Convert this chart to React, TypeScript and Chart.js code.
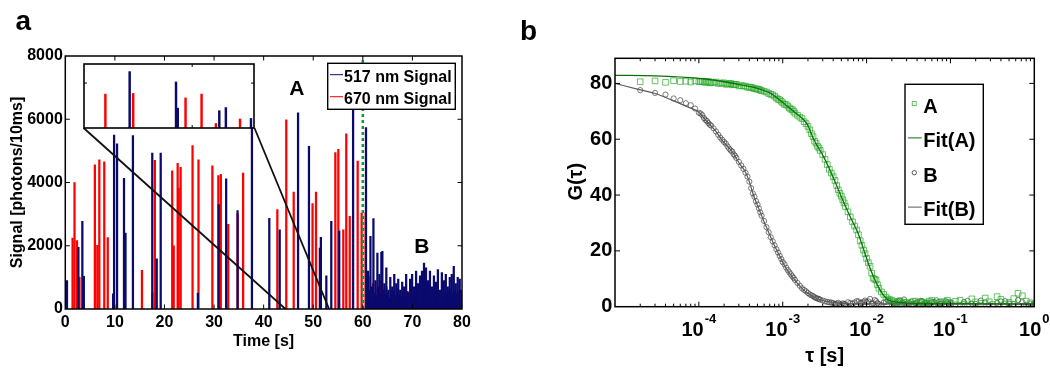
import React, { useEffect, useRef } from "react";
import { Chart, registerables } from "chart.js";
Chart.register(...registerables);

const FAM = "'Liberation Sans', Arial, Helvetica, sans-serif";
const bold = (size: number) => `bold ${size}px ${FAM}`;

// ---------------- Panel a: photon traces ----------------
const timeTicks = [0, 10, 20, 30, 40, 50, 60, 70, 80];
const signalTicks = [0, 2000, 4000, 6000, 8000];
const seriesLabels = ["517 nm Signal", "670 nm Signal"];

const blueTimes = [
  0.5, 2.8, 3.6, 3.9, 9.8, 10.0, 10.6, 12.0, 12.3, 13.8, 17.7, 18.6, 19.4, 26.9, 31.1, 32.6, 34.9, 37.8,
  41.3, 43.4, 47.1, 49.3, 51.5, 51.7, 52.8, 53.8, 55.4, 58.2, 60.8,
  61.2, 61.5, 61.7, 62.0, 62.3, 62.5, 62.7, 62.9, 63.1, 63.3, 63.5, 63.7, 63.9, 64.1, 64.3, 64.5, 64.7, 64.9,
  65.1, 65.3, 65.5, 65.7, 65.9, 66.1, 66.3, 66.5, 66.7, 66.9, 67.1, 67.3, 67.5, 67.7, 67.9, 68.1, 68.3, 68.5,
  68.7, 68.9, 69.1, 69.3, 69.5, 69.7, 69.9, 70.1, 70.3, 70.5, 70.7, 70.9, 71.1, 71.3, 71.5, 71.7, 71.9, 72.1,
  72.3, 72.5, 72.7, 72.9, 73.1, 73.3, 73.5, 73.7, 73.9, 74.1, 74.3, 74.5, 74.7, 74.9, 75.1, 75.3, 75.5, 75.7,
  75.9, 76.1, 76.3, 76.5, 76.7, 76.9, 77.1, 77.3, 77.5, 77.7, 77.9, 78.1, 78.3, 78.5, 78.7, 78.9, 79.1, 79.3,
  79.5, 79.7, 79.9,
];
const blueSignal = [
  900, 1950, 2770, 1030, 480, 5500, 5220, 4130, 2400, 5480, 4930, 1590, 4930, 500, 3300, 4120, 3110, 6100,
  2870, 2500, 6200, 5140, 1930, 2270, 1050, 2770, 2470, 6400, 5740,
  1200, 600, 2300, 700, 2860, 500, 900, 400, 1770, 700, 1100, 500, 1790, 1820, 600, 800, 450, 1300,
  500, 600, 350, 1000, 450, 700, 550, 1100, 400, 800, 500, 950, 450, 600, 350, 850, 500, 700,
  400, 1100, 550, 500, 400, 950, 500, 1100, 600, 700, 450, 1200, 500, 800, 550, 1050, 600, 1200,
  700, 1450, 600, 1300, 500, 900, 650, 1200, 500, 700, 450, 1050, 550, 850, 500, 1250, 450, 600,
  500, 1150, 600, 900, 450, 1100, 500, 700, 550, 1000, 600, 1100, 500, 1350, 600, 800, 450, 1000,
  550, 950, 600,
];
const redTimes = [
  1.3, 1.7, 2.2, 2.7, 5.8, 6.3, 6.7, 7.7, 8.4, 15.3, 17.4, 17.9, 21.4, 21.7, 22.5, 22.7, 23.1, 25.5, 26.7,
  29.5, 30.7, 31.2, 32.7, 34.6, 35.7, 42.6, 44.4, 45.9, 49.7, 50.4, 54.3, 54.9, 55.9, 56.5, 57.2, 58.8,
  59.6, 60.4,
  61.0, 61.4, 61.9, 62.4, 62.8, 63.4, 64.0, 64.6, 65.0, 65.6, 66.2, 66.8, 67.4, 68.0, 68.4, 69.0, 69.6,
  70.2, 70.8, 71.4, 72.0, 72.6, 73.2, 73.8, 74.4, 75.0, 75.6, 76.2, 76.8, 77.4, 78.0, 78.6, 79.2, 79.8,
];
const redSignal = [
  2240, 4000, 2160, 1000, 4560, 2010, 4720, 4650, 2260, 1220, 500, 4700, 4370, 2000, 4610, 3820, 4480, 5170, 4720,
  4530, 4220, 4260, 2680, 3010, 4300, 3140, 5980, 3700, 3330, 3700, 4950, 5050, 2500, 5540, 2930, 4680,
  3030, 3050,
  1030, 500, 800, 450, 650, 900, 450, 700, 350, 600, 450, 700, 400, 600, 300, 550, 350,
  600, 400, 700, 450, 500, 350, 600, 400, 500, 300, 550, 400, 600, 350, 500, 400, 450,
];
const switchTime = 60;
const regionLabels = ["A", "B"];
const regionLabelTime = [46.7, 71.9];
const regionLabelSignal = [6956, 1960];

// zoomed window shown in the inset
const zoomWindow = [44.4, 53.2];
const insetBoxTime = [3.7, 38.15];
const insetBoxSignal = [5723, 7760];
const insetSignalMax = 5700;
const insetTickTime = [50];
const insetTickSignal = [4000];
const insetBlueTimes = [46.81, 49.21, 49.3, 51.45, 51.79, 53.09];
const insetBlueSignal = [5020, 4100, 1770, 1540, 1820, 850];
const insetRedTimes = [45.46, 46.9, 49.61, 50.44, 51.18, 52.43];
const insetRedSignal = [3020, 3080, 2680, 3020, 400, 800];

// ---------------- Panel b: correlation curves ----------------
const corrLabels = ["A", "Fit(A)", "B", "Fit(B)"];
const decadeExps = [-4, -3, -2, -1, 0];
const gTicks = [0, 20, 40, 60, 80];

// correlator lag times, first set
const tau = [
  2e-5, 3e-5, 4e-5, 5e-5, 6e-5, 7e-5, 8e-5, 9e-5,
  1.0e-4, 1.1e-4, 1.2e-4, 1.3e-4, 1.4e-4, 1.6e-4, 1.8e-4, 2.0e-4, 2.2e-4, 2.4e-4, 2.6e-4, 2.8e-4,
  3.2e-4, 3.6e-4, 4.0e-4, 4.4e-4, 4.8e-4, 5.2e-4, 5.6e-4, 6.4e-4, 7.2e-4, 8.0e-4, 8.8e-4, 9.6e-4,
  1.0e-3, 1.1e-3, 1.2e-3, 1.3e-3, 1.4e-3, 1.6e-3, 1.8e-3, 2.0e-3, 2.2e-3, 2.4e-3, 2.6e-3, 2.8e-3,
  3.2e-3, 3.6e-3, 4.0e-3, 4.4e-3, 4.8e-3, 5.2e-3, 5.6e-3, 6.4e-3, 7.2e-3, 8.0e-3, 8.8e-3, 9.6e-3,
  1.0e-2, 1.1e-2, 1.2e-2, 1.3e-2, 1.4e-2, 1.6e-2, 1.8e-2, 2.0e-2, 2.2e-2, 2.4e-2, 2.6e-2, 2.8e-2,
  3.2e-2, 3.6e-2, 4.0e-2, 4.4e-2, 4.8e-2, 5.2e-2, 5.6e-2, 6.4e-2, 7.2e-2, 8.0e-2, 8.8e-2, 9.6e-2,
  0.10, 0.13, 0.16, 0.20, 0.26, 0.32, 0.40, 0.50, 0.64, 0.80, 1.00,
];
const gA = [
  80.6, 80.9, 80.4, 81.0, 80.7, 80.8, 80.5, 80.9,
  80.6, 80.8, 80.4, 80.7, 80.3, 80.5, 80.1, 80.2, 79.8, 80.0, 79.6, 79.7,
  79.2, 79.0, 78.7, 78.4, 78.0, 77.9, 77.4, 76.9, 76.1, 75.4, 74.3, 73.6,
  73.0, 72.4, 71.2, 70.6, 69.3, 67.9, 66.3, 64.6, 62.0, 59.3, 57.5, 56.0,
  52.8, 49.2, 46.6, 43.4, 40.6, 38.3, 35.9, 32.2, 28.9, 25.8, 22.0, 19.0,
  17.3, 14.5, 10.2, 9.5, 6.6, 4.4, 2.8, 2.2, 1.4, 1.9, 0.8, 1.6,
  1.0, 1.8, 0.9, 1.5, 0.6, 1.3, 2.0, 0.7, 1.4, 1.8, 0.5, 1.6,
  1.2, 2.3, 0.4, 1.7, 3.1, 0.8, 2.6, 1.5, 4.8, 2.0, 0.6,
];
const gB = [
  77.6, 76.6, 76.0, 74.6, 74.0, 72.9, 72.2, 71.0,
  69.5, 68.6, 66.9, 65.8, 64.9, 62.8, 60.6, 59.0, 57.4, 56.0, 54.6, 53.3,
  50.6, 48.0, 44.8, 40.6, 37.8, 35.2, 32.6, 28.5, 24.9, 22.0, 19.4, 17.1,
  16.0, 14.0, 12.3, 10.9, 9.6, 7.5, 6.0, 4.9, 4.1, 3.4, 2.9, 2.5,
  1.9, 1.6, 1.3, 1.1, 0.9, 1.2, 0.8, 1.3, 1.5, 1.9, 1.4, 2.2,
  1.6, 2.8, 1.2, 2.0, 0.9, 1.5, 2.3, 0.7, 1.1, 1.8, 0.5, 2.6,
  1.3, 0.8, 1.6, 2.1, 0.6, 1.4, 0.9, 1.7, 0.4, 1.2, 2.0, 0.8,
  1.3, 0.5, 2.1, 1.0, 1.6, 0.3, 1.9, 1.1, 2.4, 0.7, 1.2,
];
// correlator lag times, second (interleaved) set
const tau2 = [
  1.05e-4, 1.15e-4, 1.25e-4, 1.35e-4, 1.5e-4, 1.7e-4, 1.9e-4, 2.1e-4, 2.3e-4, 2.5e-4, 2.7e-4, 3.0e-4,
  3.4e-4, 3.8e-4, 4.2e-4, 4.6e-4, 5.0e-4, 5.4e-4, 6.0e-4, 6.8e-4, 7.6e-4, 8.4e-4, 9.2e-4,
  1.05e-3, 1.15e-3, 1.25e-3, 1.35e-3, 1.5e-3, 1.7e-3, 1.9e-3, 2.1e-3, 2.3e-3, 2.5e-3, 2.7e-3, 3.0e-3,
  3.4e-3, 3.8e-3, 4.2e-3, 4.6e-3, 5.0e-3, 5.4e-3, 6.0e-3, 6.8e-3, 7.6e-3, 8.4e-3, 9.2e-3,
  1.05e-2, 1.15e-2, 1.25e-2, 1.35e-2, 1.5e-2, 1.7e-2, 1.9e-2, 2.1e-2, 2.3e-2, 2.5e-2, 2.7e-2, 3.0e-2,
  3.4e-2, 3.8e-2, 4.2e-2, 4.6e-2, 5.0e-2, 5.4e-2, 6.0e-2, 6.8e-2, 7.6e-2, 8.4e-2, 9.2e-2,
  0.115, 0.145, 0.18, 0.23, 0.29, 0.36, 0.45, 0.57, 0.72, 0.9,
];
const gA2 = [
  80.7, 80.5, 80.6, 80.2, 80.4, 80.0, 80.1, 79.7, 79.9, 79.5, 79.6, 79.1,
  79.1, 78.6, 78.6, 78.1, 78.0, 77.6, 77.2, 76.4, 75.9, 74.8, 74.1,
  72.5, 71.9, 70.8, 70.0, 68.6, 67.4, 65.6, 63.4, 60.9, 58.6, 56.9, 54.5,
  50.9, 47.9, 45.2, 41.9, 39.6, 37.2, 34.0, 30.4, 27.5, 23.6, 20.3,
  15.8, 12.0, 9.8, 7.9, 5.3, 3.4, 2.5, 1.8, 1.2, 2.1, 1.0, 1.5,
  0.7, 2.0, 1.1, 1.7, 0.9, 1.4, 2.2, 1.0, 1.6, 0.8, 2.3,
  1.9, 0.9, 2.8, 1.2, 1.8, 3.6, 1.0, 2.9, 3.9, 1.4,
];
const gB2 = [
  69.2, 67.6, 66.5, 65.2, 63.9, 61.6, 59.8, 58.4, 56.6, 55.6, 54.1, 51.9,
  49.4, 46.6, 42.5, 39.4, 36.6, 33.8, 30.7, 26.7, 23.4, 20.6, 18.2,
  15.2, 13.1, 11.6, 10.3, 8.5, 6.6, 5.5, 4.4, 3.8, 3.1, 2.8, 2.2,
  1.7, 1.5, 1.0, 1.4, 0.7, 1.0, 1.6, 1.1, 2.0, 1.3, 1.8,
  1.9, 1.0, 2.4, 1.3, 0.6, 1.7, 2.0, 1.1, 0.8, 2.2, 1.4, 0.9,
  1.8, 1.2, 0.5, 2.0, 1.3, 0.8, 1.6, 2.3, 1.0, 0.6, 1.5,
  0.8, 1.7, 1.1, 2.2, 0.6, 1.4, 2.0, 0.9, 1.6, 1.1,
];
const fitATau = [
  1e-5, 3e-5, 1e-4, 2e-4, 3.16e-4, 4.9e-4, 7.08e-4, 1e-3, 1.41e-3, 1.95e-3, 2.34e-3, 3.09e-3, 3.98e-3,
  5.01e-3, 6.31e-3, 7.94e-3, 9.12e-3, 1.05e-2, 1.2e-2, 1.38e-2, 1.58e-2, 1.82e-2, 2.51e-2, 3.16e-2, 1e-1, 1,
];
const fitAValues = [
  82.9, 82.7, 81.8, 80.6, 79.5, 78.3, 76.5, 73.2, 69.5, 65.5, 60.0, 53.6, 46.5,
  39.3, 32.5, 26.2, 20.9, 15.5, 11.0, 7.1, 4.2, 2.4, 1.5, 1.3, 1.1, 1.0,
];
const fitBTau = [
  1e-5, 1.95e-5, 3.02e-5, 4.79e-5, 7.59e-5, 1e-4, 1.2e-4, 1.58e-4, 1.91e-4, 2.51e-4, 3.02e-4, 3.55e-4,
  3.98e-4, 4.47e-4, 5.13e-4, 5.89e-4, 6.76e-4, 7.76e-4, 9.33e-4, 1.07e-3, 1.35e-3, 1.62e-3, 1.95e-3,
  2.51e-3, 3.16e-3, 5.01e-3, 1e-2, 1,
];
const fitBValues = [
  80.0, 77.8, 76.4, 74.0, 71.4, 69.7, 66.9, 63.0, 59.5, 55.5, 51.5, 48.5,
  45.0, 40.0, 35.5, 31.0, 26.8, 22.6, 17.8, 14.3, 10.1, 7.2, 5.0,
  3.0, 2.0, 1.2, 1.0, 0.9,
];

const BLUE = "#0a0a6e";
const RED = "#ff0000";

// ---------------- plugins ----------------
function framePlugin(cfg: any) {
  return {
    id: "frame",
    afterDatasetsDraw(chart: any) {
      const { ctx, chartArea: a, scales } = chart;
      const xs = scales.x;
      const ys = scales.y;
      ctx.save();
      ctx.strokeStyle = "#000";
      ctx.lineWidth = cfg.tickWidth || 1;
      ctx.beginPath();
      const xt = (vals: number[], len: number) =>
        vals.forEach((v) => {
          const p = xs.getPixelForValue(v);
          if (p < a.left + 1 || p > a.right - 1) return;
          ctx.moveTo(p, a.bottom);
          ctx.lineTo(p, a.bottom - len);
          ctx.moveTo(p, a.top);
          ctx.lineTo(p, a.top + len);
        });
      const yt = (vals: number[], len: number) =>
        vals.forEach((v) => {
          const p = ys.getPixelForValue(v);
          if (p < a.top + 1 || p > a.bottom - 1) return;
          ctx.moveTo(a.left, p);
          ctx.lineTo(a.left + len, p);
          ctx.moveTo(a.right, p);
          ctx.lineTo(a.right - len, p);
        });
      xt(cfg.xMajor || [], cfg.major);
      xt(cfg.xMinor || [], cfg.minor || 0);
      yt(cfg.yMajor || [], cfg.major);
      ctx.stroke();
      ctx.lineWidth = cfg.borderWidth || 1.5;
      ctx.strokeRect(a.left, a.top, a.right - a.left, a.bottom - a.top);
      ctx.restore();
    },
  };
}

function boxLegendPlugin(cfg: any) {
  return {
    id: "boxLegend",
    afterDraw(chart: any) {
      const { ctx, chartArea: a } = chart;
      const x0 = a.right - cfg.right - cfg.width;
      const y0 = a.top + cfg.top;
      ctx.save();
      ctx.fillStyle = "#fff";
      ctx.fillRect(x0, y0, cfg.width, cfg.height);
      ctx.strokeStyle = "#000";
      ctx.lineWidth = 1.4;
      ctx.strokeRect(x0, y0, cfg.width, cfg.height);
      ctx.font = cfg.font;
      ctx.textBaseline = "middle";
      ctx.textAlign = "left";
      cfg.items.forEach((it: any, i: number) => {
        const ds = chart.data.datasets[it.index];
        const cy = y0 + cfg.firstRow + i * cfg.rowGap;
        const color = ds[it.colorProp];
        ctx.strokeStyle = color;
        ctx.lineWidth = 1;
        if (it.kind === "line") {
          ctx.beginPath();
          ctx.moveTo(x0 + cfg.lineFrom, cy - cfg.lineRaise);
          ctx.lineTo(x0 + cfg.lineTo, cy - cfg.lineRaise);
          ctx.stroke();
        } else if (it.kind === "rect") {
          ctx.strokeRect(x0 + cfg.markX - 2, cy - cfg.markRaise - 2, 4, 4);
        } else if (it.kind === "circle") {
          ctx.beginPath();
          ctx.arc(x0 + cfg.markX, cy - cfg.markRaise, 2.2, 0, Math.PI * 2);
          ctx.stroke();
        }
        ctx.fillStyle = "#000";
        ctx.fillText(ds.label, x0 + cfg.textX, cy);
      });
      ctx.restore();
    },
  };
}

const textsA = {
  id: "textsA",
  afterDraw(chart: any) {
    const { ctx, chartArea: a, scales } = chart;
    ctx.save();
    ctx.fillStyle = "#000";
    ctx.font = bold(28);
    ctx.textAlign = "left";
    ctx.textBaseline = "alphabetic";
    ctx.fillText("a", 15.5, 30);
    ctx.font = bold(16);
    ctx.textAlign = "center";
    ctx.textBaseline = "middle";
    ctx.fillText("Time [s]", (a.left + a.right) / 2, a.bottom + 32.4);
    ctx.save();
    ctx.translate(a.left - 47.8, (a.top + a.bottom) / 2);
    ctx.rotate(-Math.PI / 2);
    ctx.fillText("Signal [photons/10ms]", 0, 0);
    ctx.restore();
    ctx.font = bold(21);
    regionLabels.forEach((t, i) => {
      ctx.fillText(t, scales.x.getPixelForValue(regionLabelTime[i]), scales.y.getPixelForValue(regionLabelSignal[i]));
    });
    ctx.restore();
  },
};

const textsB = {
  id: "textsB",
  afterDraw(chart: any) {
    const { ctx, chartArea: a, scales } = chart;
    ctx.save();
    ctx.fillStyle = "#000";
    ctx.font = bold(28);
    ctx.textAlign = "left";
    ctx.textBaseline = "alphabetic";
    ctx.fillText("b", 5, 40);
    ctx.textAlign = "center";
    ctx.textBaseline = "middle";
    ctx.font = bold(20);
    ctx.fillText("τ [s]", (a.left + a.right) / 2, a.bottom + 50);
    ctx.save();
    ctx.translate(a.left - 38.3, (a.top + a.bottom) / 2 - 0.8);
    ctx.rotate(-Math.PI / 2);
    ctx.fillText("G(τ)", 0, 0);
    ctx.restore();
    ctx.textAlign = "left";
    decadeExps.forEach((e) => {
      const px = scales.x.getPixelForValue(Math.pow(10, e));
      ctx.font = bold(20);
      const w1 = ctx.measureText("10").width;
      ctx.font = bold(13);
      const s = String(e);
      const w2 = ctx.measureText(s).width;
      const x0 = px - (w1 + w2 + 1) / 2;
      ctx.font = bold(20);
      ctx.fillText("10", x0, a.bottom + 23.3);
      ctx.font = bold(13);
      ctx.fillText(s, x0 + w1 + 1, a.bottom + 12.5);
    });
    ctx.restore();
  },
};

const whiteBg = {
  id: "whiteBg",
  beforeDraw(chart: any) {
    const { ctx, chartArea: a } = chart;
    ctx.save();
    ctx.fillStyle = "#fff";
    ctx.fillRect(a.left, a.top, a.right - a.left, a.bottom - a.top);
    ctx.restore();
  },
};

const logMinorTicks: number[] = [];
for (let e = -5; e < 0; e++) for (let m = 2; m <= 9; m++) logMinorTicks.push(m * Math.pow(10, e));
const logMajorTicks = [-5, -4, -3, -2, -1, 0].map((e) => Math.pow(10, e));

const tickFont = (size: number) => ({ family: FAM, size, weight: "bold" as const });
const plainLabel = (v: any) => String(v);

export default function App() {
  const aRef = useRef<HTMLCanvasElement | null>(null);
  const bRef = useRef<HTMLCanvasElement | null>(null);
  const insetRef = useRef<HTMLCanvasElement | null>(null);

  useEffect(() => {
    const chartA = new Chart(aRef.current as HTMLCanvasElement, {
      type: "bar",
      data: {
        datasets: [
          {
            type: "bar",
            label: seriesLabels[0],
            data: blueTimes.map((t, i) => ({ x: t, y: blueSignal[i] })),
            backgroundColor: BLUE,
            barThickness: 1.6,
            order: 1,
          },
          {
            type: "bar",
            label: seriesLabels[1],
            data: redTimes.map((t, i) => ({ x: t, y: redSignal[i] })),
            backgroundColor: RED,
            barThickness: 1.6,
            order: 2,
          },
          {
            type: "line",
            label: "zoom left",
            data: [
              { x: insetBoxTime[0], y: insetBoxSignal[0] },
              { x: zoomWindow[0], y: 0 },
            ],
            borderColor: "#111",
            borderWidth: 1.8,
            pointRadius: 0,
            order: 0,
          },
          {
            type: "line",
            label: "zoom right",
            data: [
              { x: insetBoxTime[1], y: insetBoxSignal[0] },
              { x: zoomWindow[1], y: 0 },
            ],
            borderColor: "#111",
            borderWidth: 1.8,
            pointRadius: 0,
            order: 0,
          },
          {
            type: "line",
            label: "switch",
            data: [
              { x: switchTime, y: 0 },
              { x: switchTime, y: 8000 },
            ],
            borderColor: "#109a30",
            borderWidth: 2.5,
            borderDash: [3, 3],
            pointRadius: 0,
            order: 0,
          },
        ] as any,
      },
      options: {
        responsive: false,
        animation: false,
        events: [],
        layout: { padding: { left: 0, right: 18, top: 56, bottom: 0 } },
        plugins: { legend: { display: false }, tooltip: { enabled: false } },
        scales: {
          x: {
            type: "linear",
            min: 0,
            max: 80,
            offset: false,
            afterFit: (s: any) => {
              s.height = 60;
            },
            afterBuildTicks: (s: any) => {
              s.ticks = timeTicks.map((v) => ({ value: v }));
            },
            ticks: { font: tickFont(16), color: "#000", padding: 4.4, maxRotation: 0, autoSkip: false, callback: plainLabel },
            grid: { display: false, drawTicks: false },
            border: { display: false },
          },
          y: {
            min: 0,
            max: 8000,
            afterFit: (s: any) => {
              s.width = 65.3;
            },
            afterBuildTicks: (s: any) => {
              s.ticks = signalTicks.map((v) => ({ value: v }));
            },
            ticks: { font: tickFont(16), color: "#000", padding: 2.5, callback: plainLabel },
            grid: { display: false, drawTicks: false },
            border: { display: false },
          },
        } as any,
      },
      plugins: [
        framePlugin({ xMajor: timeTicks, yMajor: signalTicks, major: 4.5, borderWidth: 1.5 }),
        boxLegendPlugin({
          right: 6.7,
          top: 7.3,
          width: 127.6,
          height: 46,
          firstRow: 14,
          rowGap: 22,
          lineFrom: 2.3,
          lineTo: 15.3,
          lineRaise: 2.6,
          textX: 16.3,
          font: bold(16),
          items: [
            { index: 0, kind: "line", colorProp: "backgroundColor" },
            { index: 1, kind: "line", colorProp: "backgroundColor" },
          ],
        }),
        textsA,
      ],
    });

    const xs: any = chartA.scales.x;
    const ys: any = chartA.scales.y;
    const L = Math.round(xs.getPixelForValue(insetBoxTime[0]));
    const R = Math.round(xs.getPixelForValue(insetBoxTime[1]));
    const T = Math.round(ys.getPixelForValue(insetBoxSignal[1]));
    const B = Math.round(ys.getPixelForValue(insetBoxSignal[0]));
    const inset = insetRef.current as HTMLCanvasElement;
    inset.width = R - L + 2;
    inset.height = B - T + 2;
    inset.style.left = L - 1 + "px";
    inset.style.top = T - 1 + "px";
    inset.style.width = R - L + 2 + "px";
    inset.style.height = B - T + 2 + "px";

    const chartInset = new Chart(inset, {
      type: "bar",
      data: {
        datasets: [
          {
            label: seriesLabels[0],
            data: insetBlueTimes.map((t, i) => ({ x: t, y: insetBlueSignal[i] })),
            backgroundColor: BLUE,
            barThickness: 1.8,
            order: 1,
          },
          {
            label: seriesLabels[1],
            data: insetRedTimes.map((t, i) => ({ x: t, y: insetRedSignal[i] })),
            backgroundColor: RED,
            barThickness: 1.8,
            order: 2,
          },
        ] as any,
      },
      options: {
        responsive: false,
        animation: false,
        events: [],
        layout: { padding: 1 },
        plugins: { legend: { display: false }, tooltip: { enabled: false } },
        scales: {
          x: { type: "linear", min: zoomWindow[0], max: zoomWindow[1], offset: false, display: false },
          y: { min: 0, max: insetSignalMax, display: false },
        } as any,
      },
      plugins: [whiteBg, framePlugin({ xMajor: insetTickTime, yMajor: insetTickSignal, major: 3, borderWidth: 1.6 })],
    });

    const allTau = tau.concat(tau2);
    const allA = gA.concat(gA2);
    const allB = gB.concat(gB2);

    const chartB = new Chart(bRef.current as HTMLCanvasElement, {
      type: "scatter",
      data: {
        datasets: [
          {
            label: corrLabels[0],
            data: allTau.map((t, i) => ({ x: t, y: allA[i] })),
            pointStyle: "rect",
            pointRadius: 4,
            pointBorderWidth: 1,
            borderColor: "rgba(40,170,40,0.7)",
            backgroundColor: "rgba(0,0,0,0)",
            showLine: false,
            order: 1,
          },
          {
            label: corrLabels[1],
            data: fitATau.map((t, i) => ({ x: t, y: fitAValues[i] })),
            showLine: true,
            pointRadius: 0,
            borderColor: "#0f6f0f",
            borderWidth: 1.3,
            cubicInterpolationMode: "monotone",
            order: 0,
          },
          {
            label: corrLabels[2],
            data: allTau.map((t, i) => ({ x: t, y: allB[i] })),
            pointStyle: "circle",
            pointRadius: 2.6,
            pointBorderWidth: 0.8,
            borderColor: "rgba(50,50,50,0.8)",
            backgroundColor: "rgba(0,0,0,0)",
            showLine: false,
            order: 2,
          },
          {
            label: corrLabels[3],
            data: fitBTau.map((t, i) => ({ x: t, y: fitBValues[i] })),
            showLine: true,
            pointRadius: 0,
            borderColor: "#5a5a5a",
            borderWidth: 1.2,
            cubicInterpolationMode: "monotone",
            order: 0,
          },
        ] as any,
      },
      options: {
        responsive: false,
        animation: false,
        events: [],
        layout: { padding: { left: 0, right: 15.7, top: 58.3, bottom: 0 } },
        plugins: { legend: { display: false }, tooltip: { enabled: false } },
        scales: {
          x: {
            type: "logarithmic",
            min: 1e-5,
            max: 1,
            afterFit: (s: any) => {
              s.height = 62.3;
            },
            ticks: { display: false },
            grid: { display: false, drawTicks: false },
            border: { display: false },
          },
          y: {
            type: "linear",
            min: 0,
            max: 89,
            afterFit: (s: any) => {
              s.width = 100;
            },
            afterBuildTicks: (s: any) => {
              s.ticks = gTicks.map((v) => ({ value: v }));
            },
            ticks: { font: tickFont(20), color: "#000", padding: 2.7, callback: plainLabel },
            grid: { display: false, drawTicks: false },
            border: { display: false },
          },
        } as any,
      },
      plugins: [
        framePlugin({ xMajor: logMajorTicks, xMinor: logMinorTicks, yMajor: gTicks, major: 5, minor: 3, borderWidth: 1.5 }),
        boxLegendPlugin({
          right: 51,
          top: 26,
          width: 78.3,
          height: 140,
          firstRow: 22.7,
          rowGap: 34.6,
          lineFrom: 3,
          lineTo: 16.7,
          lineRaise: 3.7,
          markX: 9.3,
          markRaise: 3.5,
          textX: 18.3,
          font: bold(20),
          items: [
            { index: 0, kind: "rect", colorProp: "borderColor" },
            { index: 1, kind: "line", colorProp: "borderColor" },
            { index: 2, kind: "circle", colorProp: "borderColor" },
            { index: 3, kind: "line", colorProp: "borderColor" },
          ],
        }),
        textsB,
      ],
    });

    return () => {
      chartA.destroy();
      chartInset.destroy();
      chartB.destroy();
    };
  }, []);

  return (
    <div style={{ position: "absolute", left: 0, top: 0, width: 1050, height: 369, background: "#fff", overflow: "hidden" }}>
      <canvas ref={aRef} width={480} height={369} style={{ position: "absolute", left: 0, top: 0, width: 480, height: 369 }} />
      <canvas ref={insetRef} style={{ position: "absolute" }} />
      <canvas ref={bRef} width={535} height={369} style={{ position: "absolute", left: 515, top: 0, width: 535, height: 369 }} />
    </div>
  );
}
